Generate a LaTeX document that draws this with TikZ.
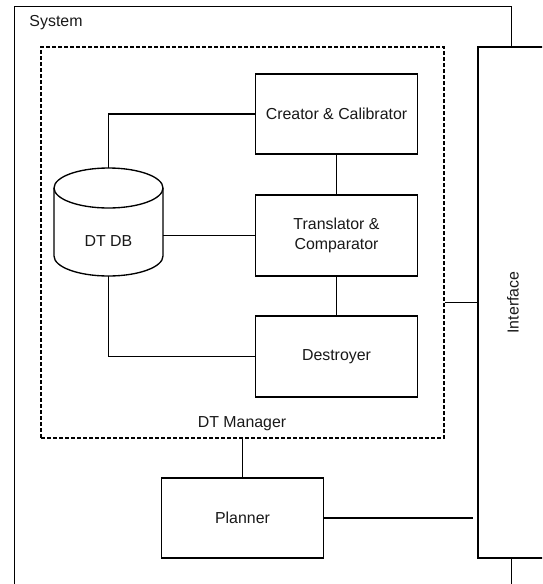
\documentclass[tikz,border=0pt]{standalone}
\usepackage{fontspec}
\setmainfont{Liberation Sans}
\begin{document}
\begin{tikzpicture}[x=1pt,y=-1pt,
  every node/.style={font=\fontsize{15.9}{19.5}\selectfont, text=black!90, align=center},
  box/.style={draw=black, line width=1.35pt, fill=white, minimum width=162pt, minimum height=81pt, inner sep=0pt},
  line/.style={draw=black, line width=1.35pt},
  dashbox/.style={draw=black, line width=1.35pt, dash pattern=on 4pt off 2pt, inner sep=0pt, minimum width=403pt, minimum height=391pt},
  frame/.style={draw=black, line width=1.35pt, inner sep=0pt}]
\useasboundingbox (0,0) rectangle (542,584);
\clip (0,0) rectangle (542,584);

% System frame
\node[frame, anchor=north west, minimum width=497.5pt, minimum height=600pt] (sys) at (13.5,6) {};
\node (syslbl) at (56,23) {System};

% DT Manager dashed region
\node[dashbox] (dtm) at (242.5,242.5) {};
\node (dtmlbl) at (242,424) {DT Manager};

% Components
\node[box, minimum height=80pt] (creator) at (336.5,114) {Creator \& Calibrator};
\node[box] (trans) at (336.5,235.5) {Translator \&\\Comparator};
\node[box] (destr) at (336.5,356.5) {Destroyer};
\node[box, minimum height=80pt] (planner) at (242.5,518) {Planner};

% Interface
\node[frame, fill=white, minimum width=70pt, minimum height=511pt] (iface) at (513,302.5) {};
\node[rotate=90] (ifacelbl) at (iface.center) {Interface};

% DT DB cylinder
\node[minimum width=109pt, minimum height=108pt, inner sep=0pt] (db) at (108.5,222) {};
\draw[line, fill=white] (54,188) -- (54,256) arc[start angle=180, end angle=360, x radius=54.5pt, y radius=20pt] -- (163,188);
\draw[line, fill=white] (108.5,188) ellipse[x radius=54.5pt, y radius=20pt];
\node (dblbl) at (108.5,241) {DT DB};

% Connectors
\draw[line] (creator.west) -| (db.north);
\draw[line] (creator.south) -- (trans.north);
\draw[line] (trans.west) -- (trans.west -| db.east);
\draw[line] (trans.south) -- (destr.north);
\draw[line] (destr.west) -| (db.south);
\draw[line] (dtm.south) -- (planner.north);
\draw[line, shorten >=4pt] (planner.east) -- (planner.east -| iface.west);
\draw[line] (dtm.east |- iface.west) -- (iface.west);
\end{tikzpicture}
\end{document}
